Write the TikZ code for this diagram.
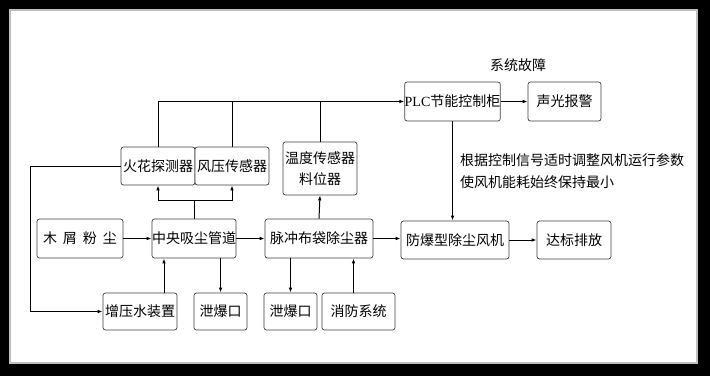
\documentclass[tikz,border=0pt]{standalone}
\usepackage{fontspec}
\setmainfont{Noto Sans CJK SC}
\newfontfamily\plcfont{Liberation Serif}
\usetikzlibrary{arrows.meta}

\providecommand{\flowLineWidth}{1pt}
\providecommand{\flowBoxColor}{black!75}

\tikzset{
  unit/.style={draw=\flowBoxColor, line width=0.7pt, rounded corners=2.5pt, fill=white,
    inner sep=0pt, align=center, font=\fontsize{14pt}{21pt}\selectfont},
  link/.style={line width=\flowLineWidth, -{Latex[length=5pt,width=3.6pt]}},
  wire/.style={line width=\flowLineWidth},
  note/.style={inner sep=0pt, align=left, font=\fontsize{14pt}{22pt}\selectfont}
}

\begin{document}
\begin{tikzpicture}[x=1pt, y=-1pt]
% Frame
\fill[black] (0,0) rectangle (710,376);
\fill[white] (9,9) rectangle (698,364);
\draw[black!25, line width=1.5pt] (10,10) rectangle (697,363);

% Sensors and control
\node[unit, minimum width=74pt, minimum height=38pt] (spark) at (158,166) {火花探测器};
\node[unit, minimum width=74pt, minimum height=38pt] (gauge) at (232,166) {风压传感器};
\node[unit, minimum width=74pt, minimum height=53pt] (temp) at (320,168.5) {温度传感器\\料位器};
\node[unit, minimum width=93pt, minimum height=39pt] (plc) at (452.5,101.5) {{\plcfont PLC}节能控制柜};
\node[unit, minimum width=73pt, minimum height=39pt] (alarm) at (564.5,101.5) {声光报警};

% Main line
\node[unit, minimum width=86pt, minimum height=39pt] (dust) at (80,238.5) {木\hspace{6pt}屑\hspace{6pt}粉\hspace{6pt}尘};
\node[unit, minimum width=84pt, minimum height=39pt] (pipe) at (194,238.5) {中央吸尘管道};
\node[unit, minimum width=108pt, minimum height=39pt] (bag) at (319,238.5) {脉冲布袋除尘器};
\node[unit, minimum width=108pt, minimum height=38pt] (fan) at (455,240) {防爆型除尘风机};
\node[unit, minimum width=74pt, minimum height=38pt] (outlet) at (574,240) {达标排放};

% Bottom row
\node[unit, minimum width=74pt, minimum height=37pt] (water) at (140,311.5) {增压水装置};
\node[unit, minimum width=53pt, minimum height=37pt] (ventA) at (220.5,311.5) {泄爆口};
\node[unit, minimum width=53pt, minimum height=37pt] (ventB) at (290.5,311.5) {泄爆口};
\node[unit, minimum width=73pt, minimum height=37pt] (fire) at (358.5,311.5) {消防系统};

% Texts
\node[note] (fault) at (518,65) {系统故障};
\node[note, anchor=west] (adjust) at (460,171) {根据控制信号适时调整风机运行参数\\使风机能耗始终保持最小};

% Connectors
\coordinate (leftbus) at (30,166);
\coordinate (split) at (194,200);
\draw[link] (spark.north) |- (plc.west);
\draw[wire] (gauge.north) -- (gauge.north |- plc.west);
\draw[wire] (temp.north) -- (temp.north |- plc.west);
\draw[link] (plc.east) -- (alarm.west);
\draw[link] (plc.south) -- (plc.south |- fan.north);
\draw[link] (spark.west) -- (leftbus) |- (water.west);
\draw[wire] (pipe.north) -- (split);
\draw[link] (split) -| (spark.south);
\draw[link] (split) -| (gauge.south);
\draw[link] (bag.north) -- (temp.south);
\draw[link] (dust.east) -- (pipe.west);
\draw[link] (pipe.east) -- (bag.west);
\draw[link] (bag.east) -- (bag.east -| fan.west);
\draw[link] (fan.east) -- (outlet.west);
\draw[link] (water.north |- water.north) ++(24pt,0) coordinate (wup) -- (wup |- pipe.south);
\draw[link] (ventA.north |- pipe.south) -- (ventA.north);
\draw[link] (ventB.north |- bag.south) -- (ventB.north);
\draw[link] (fire.north) ++(-5pt,0) coordinate (fup) -- (fup |- bag.south);
\end{tikzpicture}
\end{document}
